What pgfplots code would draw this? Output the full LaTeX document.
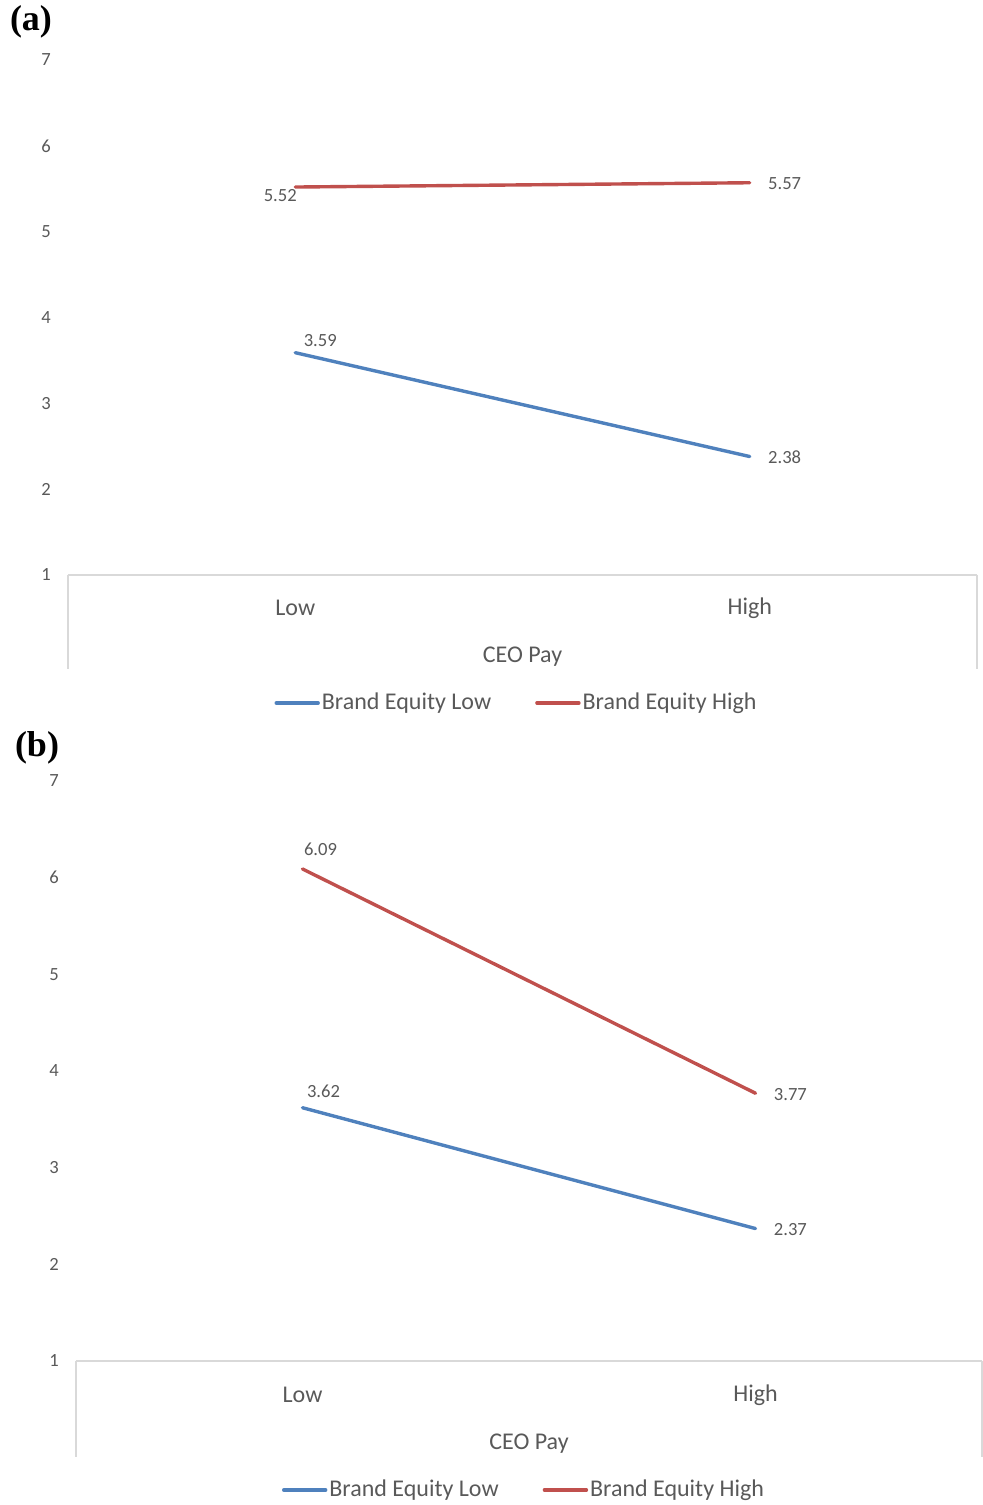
\documentclass[border=0pt]{standalone}
\usepackage{fontspec}
\setmainfont{Carlito}
\newfontfamily\serifbf{Liberation Serif}[BoldFont={Liberation Serif Bold}]
\usepackage{pgfplots}
\pgfplotsset{compat=1.18}
\definecolor{sblue}{HTML}{4F81BD}
\definecolor{sred}{HTML}{C0504D}
\definecolor{txt}{HTML}{595959}
\definecolor{axgray}{HTML}{D9D9D9}
\tikzset{lbl/.style={font=\fontsize{9.3}{11}\selectfont, text=txt, inner sep=0pt}}
\pgfplotsset{
  panel/.style={
    scale only axis, anchor=south west, clip=false,
    xmin=-0.5, xmax=1.5, ymin=1, ymax=7,
    xtick={0,1}, xticklabels={Low,High}, ytick={1,2,...,7},
    axis line style={draw=none}, major tick length=0pt,
    /pgf/number format/assume math mode=true,
    yticklabel style={anchor=center, xshift=-11pt, font=\fontsize{9.3}{11}\selectfont, text=txt},
    xticklabel style={anchor=center, font=\fontsize{12}{14}\selectfont, text=txt},
    every axis x label/.style={at={(axis description cs:0.5,0)}, anchor=center, font=\fontsize{12}{14}\selectfont, text=txt},
    legend columns=2,
    legend style={draw=none, fill=none, inner sep=0pt, font=\fontsize{12}{14}\selectfont, text=txt,
      nodes={inner xsep=1pt, inner ysep=2pt}},
    /tikz/every even column/.append style={column sep=21pt},
    legend image code/.code={\draw[#1, line width=1.7pt, line cap=round] (0pt,0pt) -- (21pt,0pt);},
    xlabel={CEO Pay},
  },
}
\begin{document}
\begin{tikzpicture}
\useasboundingbox (0,0) rectangle (491pt,752.5pt);
\node[font=\serifbf\bfseries\fontsize{18}{20}\selectfont] at (15.5pt,741.5pt) {(a)};
\node[font=\serifbf\bfseries\fontsize{18}{20}\selectfont] at (18.5pt,378.5pt) {(b)};
% Panel (a)
\begin{axis}[panel, at={(34pt,465pt)}, width=454.5pt, height=257.5pt,
  xticklabel style={yshift=-16.5pt},
  xlabel style={yshift=-41pt},
  legend style={at={(axis description cs:0.5,0)}, anchor=center, yshift=-64pt, xshift=-3pt}]
\draw[axgray, line width=0.75pt] (rel axis cs:0,0) -- (rel axis cs:1,0);
\draw[axgray, line width=0.75pt] (rel axis cs:0,0) -- ++(0pt,-47pt);
\draw[axgray, line width=0.75pt] (rel axis cs:1,0) -- ++(0pt,-47pt);
\addplot[sblue, line width=1.7pt, line cap=round, mark=none] coordinates {(0,3.59) (1,2.38)};
\addlegendentry{Brand Equity Low}
\addplot[sred, line width=1.7pt, line cap=round, mark=none] coordinates {(0,5.52) (1,5.57)};
\addlegendentry{Brand Equity High}
\node[lbl] at (axis cs:0,5.52) [xshift=-7.5pt, yshift=-4.5pt] {5.52};
\node[lbl, anchor=west] at (axis cs:1,5.57) [xshift=9pt, yshift=-0.5pt] {5.57};
\node[lbl] at (axis cs:0,3.59) [xshift=12.5pt, yshift=6pt] {3.59};
\node[lbl, anchor=west] at (axis cs:1,2.38) [xshift=9pt, yshift=-0.5pt] {2.38};
\end{axis}
% Panel (b)
\begin{axis}[panel, at={(38pt,72pt)}, width=453pt, height=290pt,
  xticklabel style={yshift=-17pt},
  xlabel style={yshift=-41.5pt},
  legend style={at={(axis description cs:0.5,0)}, anchor=center, yshift=-64.5pt, xshift=-2.5pt}]
\draw[axgray, line width=0.75pt] (rel axis cs:0,0) -- (rel axis cs:1,0);
\draw[axgray, line width=0.75pt] (rel axis cs:0,0) -- ++(0pt,-48pt);
\draw[axgray, line width=0.75pt] (rel axis cs:1,0) -- ++(0pt,-48pt);
\addplot[sblue, line width=1.7pt, line cap=round, mark=none] coordinates {(0,3.62) (1,2.37)};
\addlegendentry{Brand Equity Low}
\addplot[sred, line width=1.7pt, line cap=round, mark=none] coordinates {(0,6.09) (1,3.77)};
\addlegendentry{Brand Equity High}
\node[lbl] at (axis cs:0,6.09) [xshift=9pt, yshift=10pt] {6.09};
\node[lbl, anchor=west] at (axis cs:1,3.77) [xshift=9pt, yshift=-0.5pt] {3.77};
\node[lbl] at (axis cs:0,3.62) [xshift=10.5pt, yshift=8pt] {3.62};
\node[lbl, anchor=west] at (axis cs:1,2.37) [xshift=9pt, yshift=-0.5pt] {2.37};
\end{axis}
\end{tikzpicture}
\end{document}
